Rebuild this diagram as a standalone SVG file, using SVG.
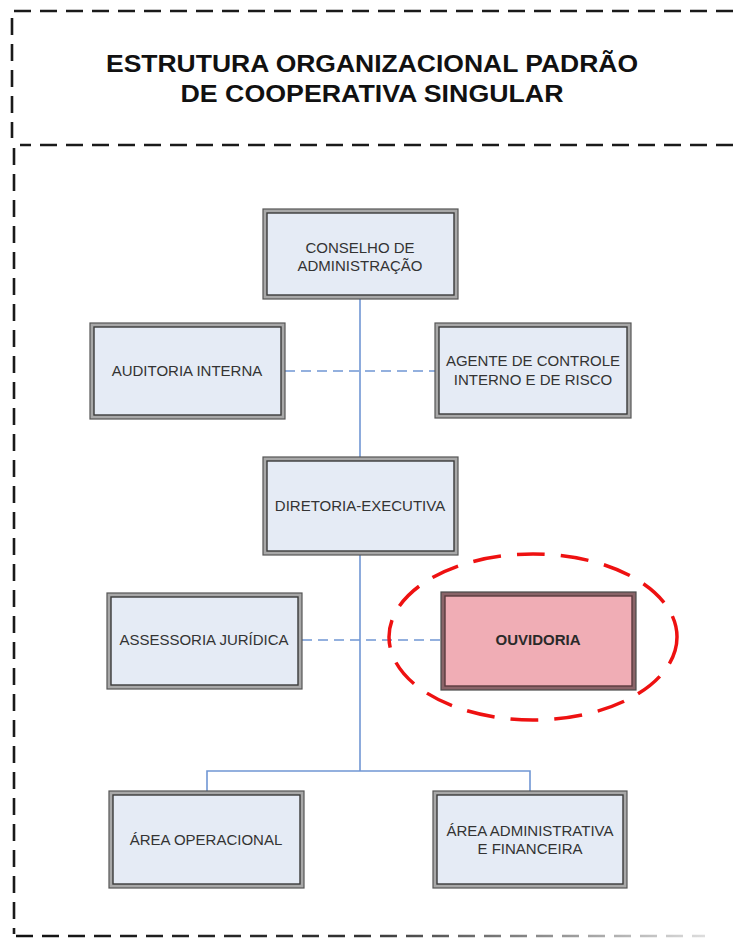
<svg xmlns="http://www.w3.org/2000/svg" width="733" height="940" viewBox="0 0 733 940">
<defs>
<linearGradient id="fade" x1="14" y1="0" x2="705" y2="0" gradientUnits="userSpaceOnUse">
<stop offset="0" stop-color="#111"/><stop offset="0.5" stop-color="#333"/><stop offset="1" stop-color="#ddd"/>
</linearGradient>
</defs>
<style>
.frame{fill:none;stroke:#1a1a1a;stroke-width:2.6;stroke-dasharray:17 9}
.title{font-family:"Liberation Sans",Arial,sans-serif;font-weight:bold;font-size:23.5px;fill:#111;text-anchor:middle}
.outer{fill:#a8a8a8;stroke:#555;stroke-width:1.2}
.inner{fill:#e5ebf5;stroke:#3a3a3a;stroke-width:1.4}
.outerR{fill:#8a6468;stroke:#4a4a4a;stroke-width:1.2}
.innerR{fill:#f0adb5;stroke:#5a3a3e;stroke-width:1.4}
.lbl{font-family:"Liberation Sans",Arial,sans-serif;font-size:15px;fill:#333;text-anchor:middle}
.lblB{font-family:"Liberation Sans",Arial,sans-serif;font-size:15px;font-weight:bold;fill:#2a2a2a;text-anchor:middle}
.solid{fill:none;stroke:#7096d4;stroke-width:1.6}
.dash{fill:none;stroke:#7096d4;stroke-width:1.4;stroke-dasharray:10 6}
</style>
<g id="frame">
<path class="frame" d="M733,11 H12 V138"/>
<path class="frame" d="M733,145 H20"/>
<path class="frame" d="M14,148 V934"/>
<path d="M16,936 H705" fill="none" stroke="url(#fade)" stroke-width="2.6" stroke-dasharray="17 9"/>
</g>
<g id="title">
<text class="title" x="372" y="72" textLength="532" lengthAdjust="spacingAndGlyphs">ESTRUTURA ORGANIZACIONAL PADRÃO</text>
<text class="title" x="372" y="102" textLength="383" lengthAdjust="spacingAndGlyphs">DE COOPERATIVA SINGULAR</text>
</g>
<g id="connectors">
<path class="solid" d="M360,299 V457"/>
<path class="solid" d="M360,555 V771"/>
<path class="solid" d="M207,791 V771 H530 V791"/>
<path class="dash" d="M285,371 H435"/>
<path class="dash" d="M302,640 H441"/>
</g>
<g id="conselho">
<rect class="outer" x="263" y="209" width="195" height="90"/>
<rect class="inner" x="267" y="213" width="187" height="82"/>
<text class="lbl" x="360" y="253">CONSELHO DE</text>
<text class="lbl" x="360" y="271">ADMINISTRAÇÃO</text>
</g>
<g id="auditoria">
<rect class="outer" x="90" y="323" width="195" height="96"/>
<rect class="inner" x="94" y="327" width="187" height="88"/>
<text class="lbl" x="187" y="376">AUDITORIA INTERNA</text>
</g>
<g id="agente">
<rect class="outer" x="435" y="323" width="196" height="95"/>
<rect class="inner" x="439" y="327" width="188" height="87"/>
<text class="lbl" x="533" y="366">AGENTE DE CONTROLE</text>
<text class="lbl" x="533" y="385">INTERNO E DE RISCO</text>
</g>
<g id="diretoria">
<rect class="outer" x="263" y="457" width="195" height="98"/>
<rect class="inner" x="267" y="461" width="187" height="90"/>
<text class="lbl" x="360" y="511">DIRETORIA-EXECUTIVA</text>
</g>
<g id="assessoria">
<rect class="outer" x="107" y="593" width="195" height="96"/>
<rect class="inner" x="111" y="597" width="187" height="88"/>
<text class="lbl" x="204" y="645">ASSESSORIA JURÍDICA</text>
</g>
<g id="ouvidoria">
<rect class="outerR" x="441" y="592" width="195" height="98"/>
<rect class="innerR" x="445" y="596" width="187" height="90"/>
<text class="lblB" x="538" y="645">OUVIDORIA</text>
<ellipse cx="533" cy="637" rx="144" ry="83" fill="none" stroke="#ee1111" stroke-width="3.5" stroke-dasharray="28 16"/>
</g>
<g id="operacional">
<rect class="outer" x="109" y="791" width="195" height="97"/>
<rect class="inner" x="113" y="795" width="187" height="89"/>
<text class="lbl" x="206" y="845">ÁREA OPERACIONAL</text>
</g>
<g id="administrativa">
<rect class="outer" x="433" y="791" width="194" height="97"/>
<rect class="inner" x="437" y="795" width="186" height="89"/>
<text class="lbl" x="530" y="836">ÁREA ADMINISTRATIVA</text>
<text class="lbl" x="530" y="854">E FINANCEIRA</text>
</g>
</svg>
